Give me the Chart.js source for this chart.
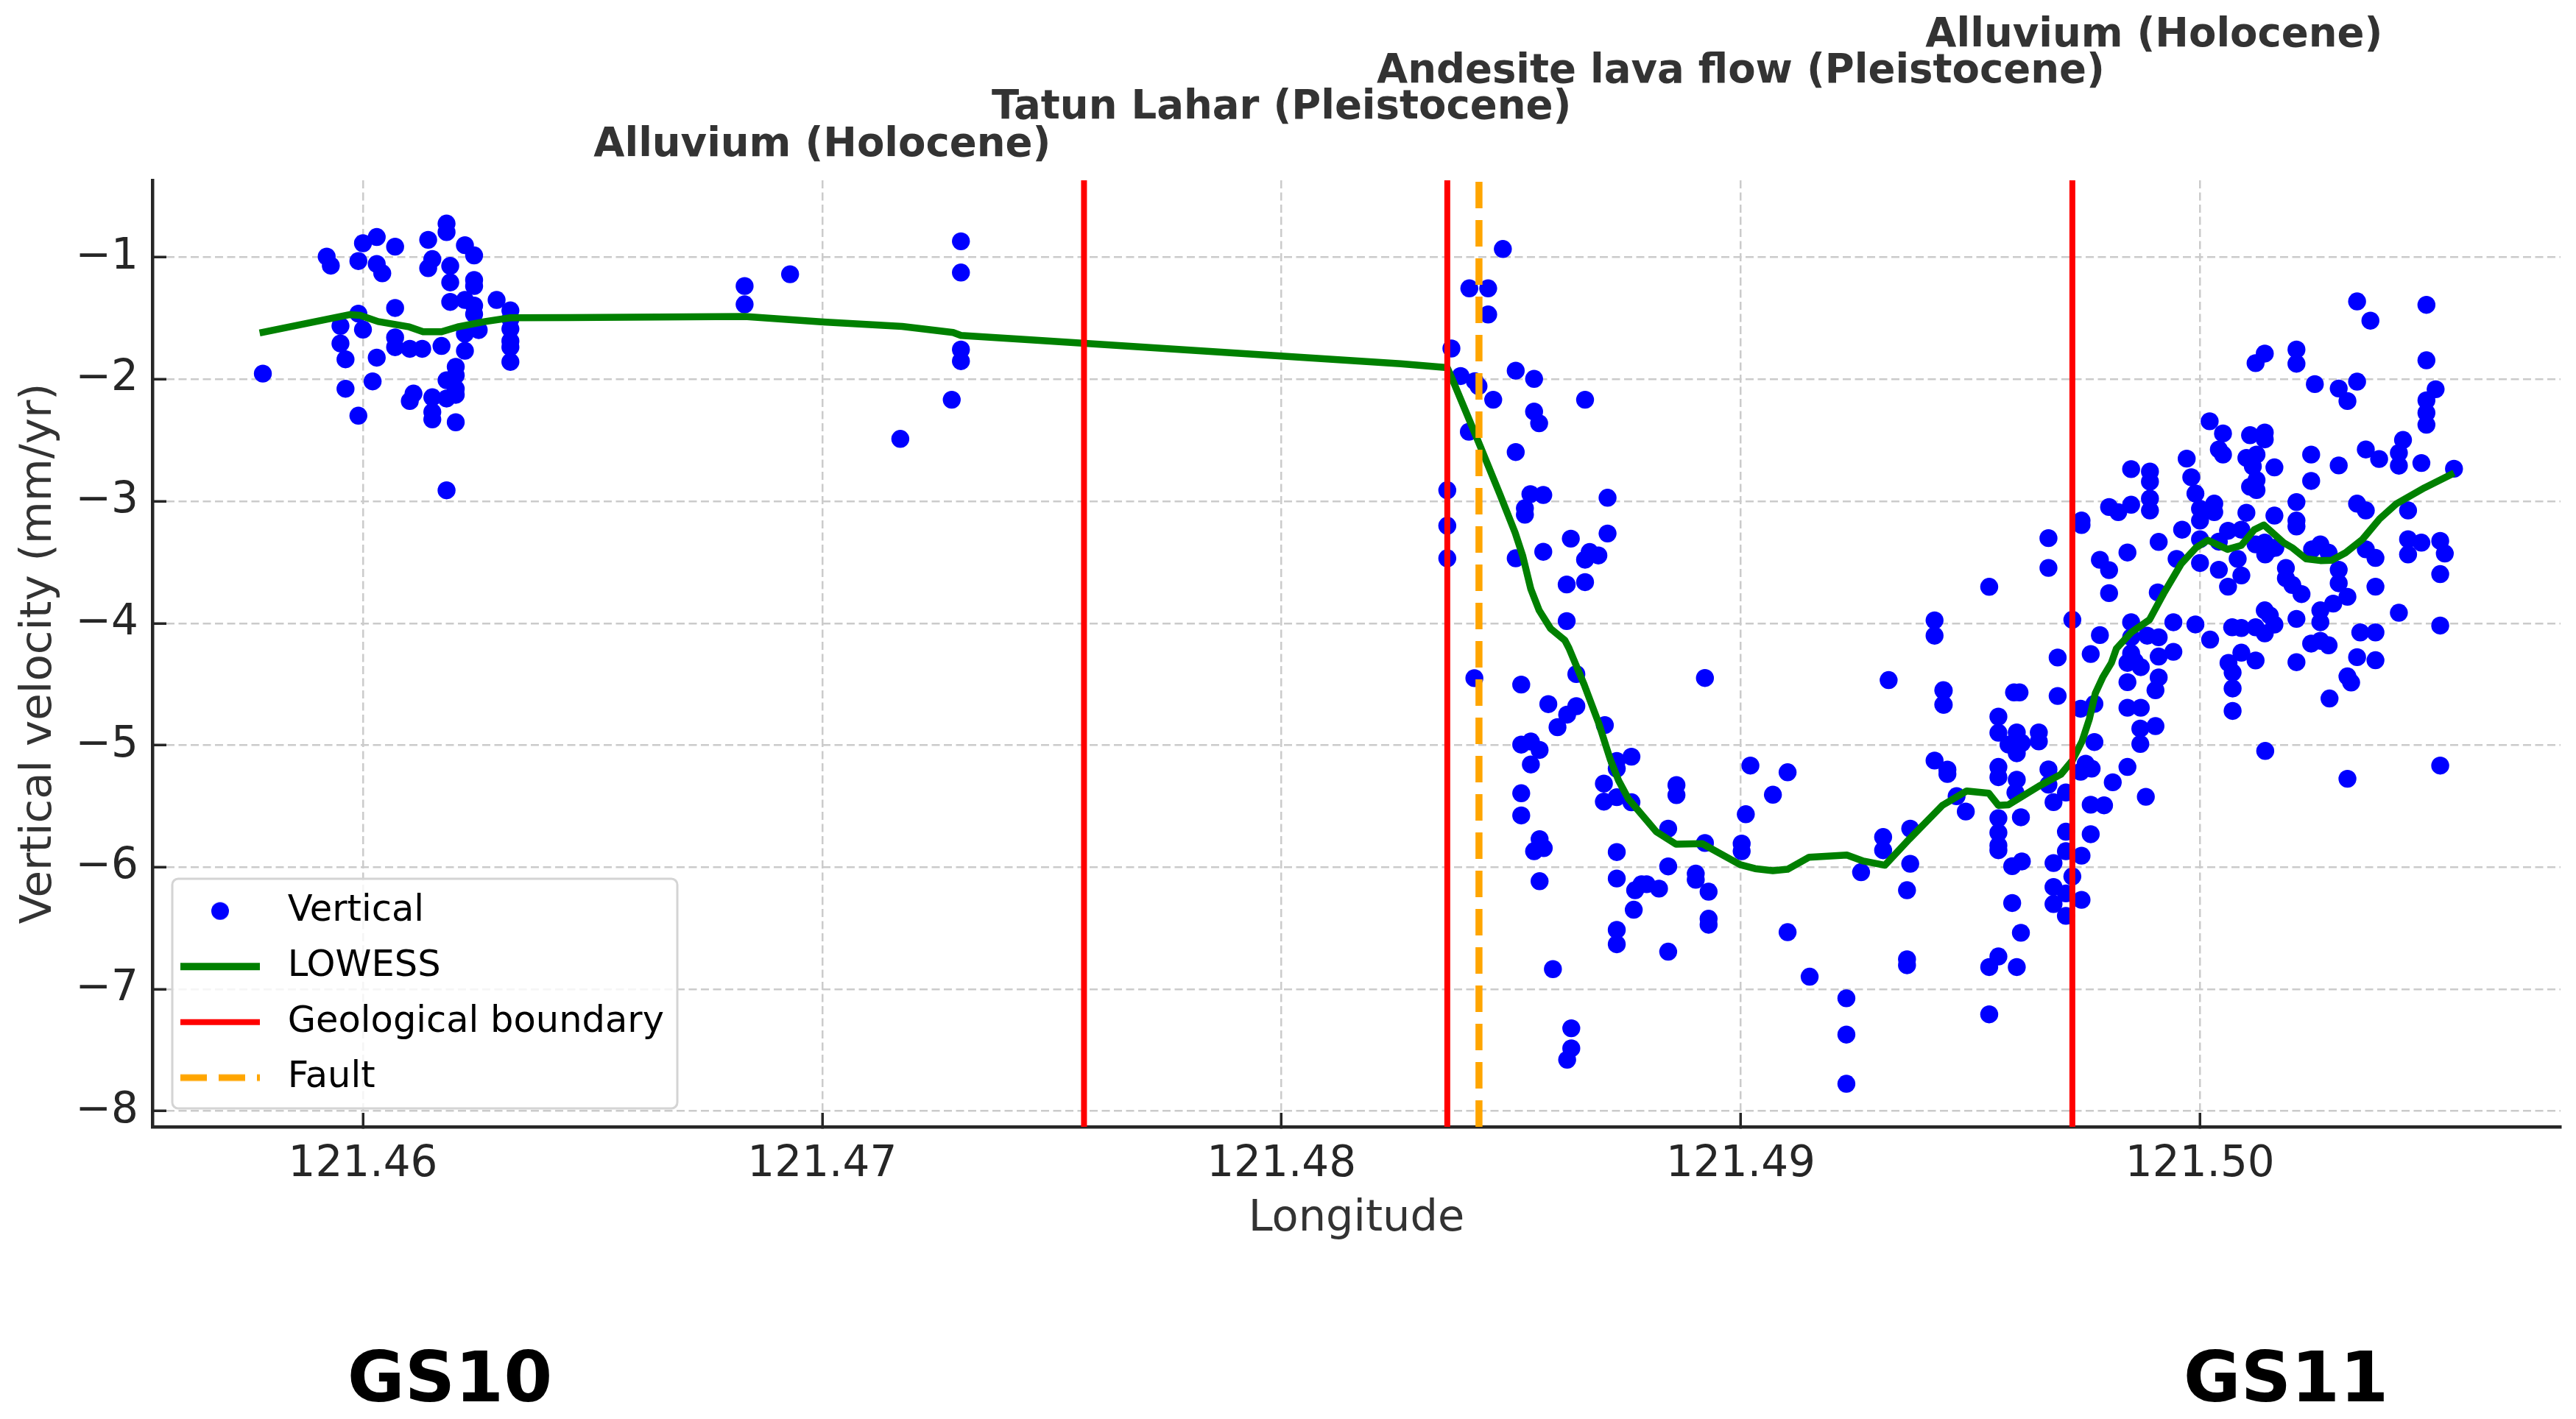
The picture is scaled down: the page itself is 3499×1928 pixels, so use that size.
<!DOCTYPE html>
<html>
<head>
<meta charset="utf-8">
<style>html,body{margin:0;padding:0;background:#fff}canvas{display:block}</style>
<script src="https://cdn.jsdelivr.net/npm/chart.js@4/dist/chart.umd.min.js"></script>
</head>
<body>
<canvas id="c" width="3499" height="1928"></canvas>
<script>
const xTickValues=[121.46,121.47,121.48,121.49,121.50];
const yTickValues=[-1,-2,-3,-4,-5,-6,-7,-8];
const boundaryLons=[121.4757,121.48361,121.49722];
const faultLons=[121.4843];
const unitNames=["Alluvium (Holocene)","Tatun Lahar (Pleistocene)","Andesite lava flow (Pleistocene)","Alluvium (Holocene)"];
const unitLons=[121.47,121.48,121.49,121.499];
const sectionNames=["GS10","GS11"];
const seriesNames=["Vertical","LOWESS","Geological boundary","Fault"];

const westLon=[121.45782,121.45921,121.4593,121.4599,121.46,121.4603,121.4603,121.46042,121.4607,121.46142,121.46151,121.46142,121.46182,121.46182,121.4619,121.4619,121.46222,121.46242,121.46242,121.46242,121.4619,121.46222,121.46242,121.46242,121.46291,121.46321,121.46321,121.46321,121.46321,121.46321,121.46321,121.4607,121.4599,121.45951,121.46,121.45951,121.45962,121.4607,121.4607,121.46102,121.46129,121.46171,121.4603,121.46222,121.46252,121.46222,121.46202,121.46182,121.46202,121.46202,121.46202,121.46182,121.46021,121.45962,121.4611,121.46102,121.46151,121.46151,121.46151,121.4599,121.46202,121.46182,121.46831,121.46831,121.4693,121.47302,121.47302,121.47302,121.47302,121.47282,121.4717];
const westVel=[-1.953,-0.994,-1.068,-1.03,-0.884,-0.833,-1.054,-1.13,-0.912,-0.856,-1.014,-1.088,-0.723,-0.793,-1.07,-1.205,-0.9,-0.984,-1.185,-1.235,-1.365,-1.349,-1.395,-1.465,-1.349,-1.435,-1.505,-1.586,-1.686,-1.736,-1.857,-1.415,-1.461,-1.562,-1.592,-1.706,-1.836,-1.656,-1.736,-1.75,-1.75,-1.726,-1.822,-1.626,-1.596,-1.766,-1.897,-2.007,-1.967,-2.077,-2.127,-2.157,-2.017,-2.077,-2.117,-2.178,-2.147,-2.268,-2.328,-2.298,-2.352,-2.91,-1.235,-1.385,-1.138,-0.868,-1.124,-1.756,-1.851,-2.167,-2.488];

const faultZoneLon=[121.48482,121.48409,121.4845,121.4845,121.4837,121.4839,121.48421,121.48429,121.48461,121.4851,121.4855,121.48661,121.4855,121.48561,121.48408,121.4851,121.48361,121.48361,121.48361,121.48542,121.4857,121.4871,121.4853,121.4853,121.4871,121.4863,121.4857,121.4851,121.48671,121.4869,121.48661,121.48661,121.48621,121.48621];
const faultZoneVel=[-0.931,-1.254,-1.254,-1.468,-1.747,-1.973,-2.015,-2.056,-2.167,-1.929,-1.996,-2.167,-2.264,-2.36,-2.43,-2.596,-2.909,-3.2,-3.467,-2.941,-2.948,-2.971,-3.057,-3.11,-3.264,-3.306,-3.414,-3.467,-3.416,-3.444,-3.479,-3.663,-3.682,-3.982];

const basinLon=[121.4842,121.48522,121.48642,121.48922,121.48581,121.48642,121.48622,121.48601,121.48704,121.48522,121.48543,121.48562,121.48543,121.48522,121.48522,121.4873,121.4873,121.48762,121.48702,121.48702,121.4873,121.48762,121.4886,121.4886,121.48842,121.48922,121.49021,121.49102,121.4907,121.49011,121.49002,121.49002,121.48562,121.48571,121.4855,121.48562,121.4873,121.4873,121.48842,121.48902,121.48902,121.4893,121.4877,121.48784,121.48795,121.48822,121.48767,121.4873,121.4873,121.4893,121.4893,121.48842,121.48591,121.48631,121.48631,121.48622,121.49102,121.4915,121.4923,121.4923,121.4923,121.49262,121.49322,121.49442,121.49442,121.49422,121.4945,121.4945,121.4947,121.4949,121.4931,121.4931,121.49369,121.49369,121.49362,121.49362,121.49362];
const basinVel=[-4.45,-4.503,-4.417,-4.449,-4.663,-4.68,-4.749,-4.852,-4.835,-4.995,-4.97,-5.039,-5.158,-5.394,-5.576,-5.13,-5.192,-5.094,-5.315,-5.463,-5.426,-5.468,-5.327,-5.409,-5.684,-5.802,-5.167,-5.222,-5.406,-5.566,-5.807,-5.869,-5.77,-5.844,-5.869,-6.115,-5.876,-6.093,-5.994,-6.053,-6.103,-6.201,-6.189,-6.14,-6.14,-6.176,-6.349,-6.514,-6.632,-6.423,-6.472,-6.693,-6.836,-7.321,-7.486,-7.579,-6.533,-6.898,-7.075,-7.373,-7.776,-6.041,-4.466,-4.552,-4.668,-5.126,-5.2,-5.236,-5.418,-5.544,-5.753,-5.861,-5.684,-5.972,-6.189,-6.755,-6.804];

const riseLon=[121.4967,121.4967,121.49541,121.49422,121.49422,121.49782,121.49802,121.49802,121.49842,121.4991,121.49722,121.49782,121.49762,121.4969,121.4969,121.4985,121.4985,121.49885,121.4991,121.49942,121.4999,121.50022,121.49942,121.4991,121.4985,121.49842,121.49858,121.49871,121.4991,121.49903,121.49842,121.49842,121.49871,121.49441,121.49441,121.49607,121.49595,121.49561,121.49561,121.49601,121.49649,121.49649,121.49583,121.49612,121.49601,121.4974,121.4977,121.4977,121.49903,121.4987,121.4987,121.50071,121.50071,121.50071,121.50062,121.5009,121.50121,121.50142,121.49842,121.4981,121.49882,121.49751,121.49764,121.4974,121.49762,121.49791,121.49762,121.49742,121.4967,121.4967,121.49708,121.49681];
const riseVel=[-3.302,-3.546,-3.701,-3.976,-4.102,-3.48,-3.564,-3.753,-3.42,-3.333,-3.971,-4.097,-4.252,-4.281,-4.596,-3.992,-4.115,-4.102,-4.115,-3.992,-4.01,-4.134,-4.234,-4.273,-4.247,-4.325,-4.312,-4.36,-4.444,-4.549,-4.483,-4.693,-4.693,-4.549,-4.667,-4.567,-4.567,-4.766,-4.898,-4.895,-4.895,-4.969,-4.995,-4.982,-5.066,-4.701,-4.661,-4.974,-4.843,-4.864,-4.99,-4.535,-4.719,-4.404,-4.325,-4.241,-4.305,-5.047,-5.178,-5.304,-5.423,-5.152,-5.192,-5.218,-5.488,-5.493,-5.73,-5.906,-5.199,-5.323,-5.388,-5.467];

const scarpLon=[121.49561,121.49561,121.49601,121.49598,121.49561,121.49561,121.49561,121.49561,121.4961,121.49708,121.49708,121.49681,121.49612,121.49591,121.49722,121.49681,121.49708,121.49742,121.49681,121.49708,121.49591,121.4961,121.49561,121.49541,121.49601,121.49541];
const scarpVel=[-5.178,-5.262,-5.283,-5.388,-5.598,-5.717,-5.822,-5.861,-5.591,-5.709,-5.869,-5.966,-5.953,-5.992,-6.076,-6.163,-6.215,-6.268,-6.302,-6.399,-6.294,-6.538,-6.732,-6.819,-6.819,-7.207];

const eastUpperLon=[121.50342,121.50371,121.50493,121.50493,121.50141,121.50121,121.5021,121.5021,121.5025,121.50302,121.50342,121.50321,121.50513,121.50493,121.50493,121.50493,121.50442,121.50433,121.50433,121.50361,121.5039,121.50482,121.50553,121.50242,121.50302,121.50242,121.5021,121.50342,121.50361,121.50453,121.50162,121.5021,121.5021,121.50021,121.5005,121.50041,121.5005,121.50109,121.50141,121.50141,121.49971,121.49981,121.4999,121.50101,121.50123,121.50115,121.50162,121.50123,121.50109,121.50123,121.5,121.5,121.50031,121.50031,121.50101];
const eastUpperVel=[-1.361,-1.519,-1.389,-1.844,-1.789,-1.867,-1.756,-1.872,-2.039,-2.075,-2.019,-2.178,-2.081,-2.172,-2.275,-2.372,-2.497,-2.603,-2.708,-2.575,-2.653,-2.686,-2.733,-2.617,-2.706,-2.833,-3.006,-3.019,-3.075,-3.075,-3.117,-3.158,-3.206,-2.344,-2.444,-2.575,-2.617,-2.458,-2.436,-2.492,-2.65,-2.803,-2.936,-2.644,-2.617,-2.714,-2.722,-2.825,-2.881,-2.908,-3.061,-3.158,-3.019,-3.089,-3.094];

const eastLowerLon=[121.49961,121.5,121.50061,121.5009,121.50041,121.49949,121.5,121.50041,121.50082,121.5009,121.50061,121.49908,121.50121,121.50141,121.50152,121.50142,121.50164,121.50187,121.50187,121.50201,121.50221,121.50141,121.50152,121.50162,121.5021,121.50262,121.50262,121.5029,121.50321,121.50302,121.50302,121.50244,121.50262,121.5028,121.50361,121.50382,121.50382,121.50453,121.50453,121.50482,121.50523,121.50533,121.50523,121.50433,121.50523,121.50349,121.50382,121.50242,121.50262,121.5028,121.50342,121.50382,121.5021,121.50321,121.50329,121.50282,121.50321,121.50523,121.5007,121.5009,121.50121,121.50141];
const eastLowerVel=[-3.233,-3.311,-3.242,-3.233,-3.331,-3.472,-3.506,-3.561,-3.472,-3.608,-3.7,-3.747,-3.353,-3.339,-3.394,-3.436,-3.381,-3.547,-3.631,-3.686,-3.761,-3.894,-3.936,-4.011,-3.964,-3.894,-3.992,-3.839,-3.783,-3.561,-3.672,-3.394,-3.353,-3.422,-3.394,-3.464,-3.7,-3.311,-3.436,-3.339,-3.325,-3.428,-3.597,-3.914,-4.019,-4.075,-4.075,-4.167,-4.144,-4.181,-4.278,-4.303,-4.319,-4.436,-4.486,-4.617,-5.275,-5.167,-4.033,-4.039,-4.033,-4.083];

const shoulderLon=[121.4985,121.49891,121.49891,121.49802,121.49822,121.4985,121.49891,121.49891,121.49742,121.49742];
const shoulderVel=[-2.736,-2.756,-2.839,-3.047,-3.089,-3.028,-2.978,-3.075,-3.158,-3.194];

const lowessLon=[121.45775,121.45972,121.45994,121.46033,121.46101,121.46131,121.46171,121.46206,121.46266,121.46321,121.4645,121.46831,121.47003,121.47174,121.47285,121.47302,121.47454,121.4826,121.48361,121.48371,121.48426,121.48475,121.48509,121.48525,121.48543,121.48561,121.48586,121.48617,121.48626,121.48659,121.48691,121.48716,121.48734,121.48755,121.48816,121.48859,121.48916,121.48999,121.49031,121.4907,121.49102,121.49149,121.49231,121.49267,121.49314,121.49367,121.49439,121.49492,121.4954,121.49561,121.49583,121.49649,121.49697,121.49722,121.49743,121.49759,121.49772,121.49788,121.49807,121.49818,121.4985,121.4989,121.49922,121.49959,121.49991,121.50017,121.5006,121.5009,121.50118,121.50139,121.50182,121.50201,121.50231,121.50262,121.50287,121.50317,121.50354,121.50391,121.50428,121.50489,121.50553];
const lowessVel=[-1.62,-1.469,-1.475,-1.526,-1.57,-1.61,-1.61,-1.57,-1.526,-1.495,-1.493,-1.485,-1.53,-1.566,-1.616,-1.64,-1.676,-1.872,-1.904,-1.991,-2.487,-2.937,-3.26,-3.444,-3.721,-3.894,-4.044,-4.14,-4.205,-4.503,-4.823,-5.118,-5.29,-5.438,-5.709,-5.812,-5.807,-5.98,-6.012,-6.029,-6.017,-5.918,-5.901,-5.95,-5.984,-5.77,-5.493,-5.375,-5.394,-5.493,-5.488,-5.336,-5.239,-5.126,-4.969,-4.785,-4.575,-4.444,-4.325,-4.207,-4.076,-3.971,-3.748,-3.512,-3.381,-3.319,-3.394,-3.361,-3.233,-3.194,-3.339,-3.381,-3.472,-3.486,-3.483,-3.422,-3.311,-3.144,-3.019,-2.889,-2.769];

const xMin=121.455415,xMax=121.50785,yMin=-8.129,yMax=-0.368;
const pairs=(a,b)=>a.map((x,i)=>({x,y:b[i]}));
const verticalData=[].concat(
  pairs(westLon,westVel),pairs(faultZoneLon,faultZoneVel),pairs(basinLon,basinVel),
  pairs(riseLon,riseVel),pairs(scarpLon,scarpVel),pairs(eastUpperLon,eastUpperVel),
  pairs(eastLowerLon,eastLowerVel),pairs(shoulderLon,shoulderVel));
const vLine=x=>[{x,y:yMin},{x,y:yMax}];
const FONT='"DejaVu Sans"';
const INK='#262626',TXT='#333333';

function key(draw){
  const c=document.createElement('canvas');c.width=110;c.height=30;
  const g=c.getContext('2d');draw(g);return c;
}
function stroke(color,w,dash){return g=>{g.strokeStyle=color;g.lineWidth=w;g.setLineDash(dash);g.beginPath();g.moveTo(1,15);g.lineTo(109,15);g.stroke();};}
const keys=[
  key(g=>{g.fillStyle='#0000ff';g.beginPath();g.arc(55,15,12,0,Math.PI*2);g.fill();}),
  key(stroke('#008000',10,[])),
  key(stroke('#ff0000',8,[])),
  key(stroke('#ffa500',9,[36,16]))
];

const overlay={
  id:'overlay',
  afterLayout(chart){
    const l=chart.legend;
    l.left=206;l.top=1187;l.right=940;l.bottom=1524;l.width=734;l.height=337;
    if(!l._framed){
      l._framed=true;
      const base=l.draw.bind(l);
      l.draw=function(){
        const ctx=chart.ctx;ctx.save();
        ctx.beginPath();ctx.roundRect(234,1194,686,312,8);
        ctx.fillStyle='rgba(255,255,255,0.8)';ctx.fill();
        ctx.lineWidth=3;ctx.strokeStyle='#d4d4d4';ctx.stroke();ctx.restore();
        base();
      };
    }
  },
  afterDraw(chart){
    const ctx=chart.ctx,xs=chart.scales.x;
    ctx.save();ctx.textAlign='center';ctx.textBaseline='middle';
    ctx.fillStyle=TXT;ctx.font='bold 54.5px '+FONT;
    const rows=[198,147,98,49];
    unitNames.forEach((t,i)=>ctx.fillText(t,xs.getPixelForValue(unitLons[i]),rows[i]));
    ctx.fillStyle='#000';ctx.font='bold 95px '+FONT;
    ctx.fillText(sectionNames[0],611,1879);
    ctx.fillText(sectionNames[1],3105,1879);
    ctx.restore();
  }
};

new Chart(document.getElementById('c'),{
  type:'scatter',
  data:{datasets:[
    {label:seriesNames[0],data:verticalData,backgroundColor:'#0000ff',borderColor:'#0000ff',pointRadius:12.2,pointBorderWidth:0,order:5},
    {label:seriesNames[1],data:pairs(lowessLon,lowessVel),showLine:true,borderColor:'#008000',borderWidth:9.5,pointRadius:0,tension:0,borderJoinStyle:'round',order:4},
    ...boundaryLons.map(b=>({label:seriesNames[2],data:vLine(b),showLine:true,borderColor:'#ff0000',borderWidth:8,pointRadius:0,order:3})),
    ...faultLons.map(b=>({label:seriesNames[3],data:vLine(b),showLine:true,borderColor:'#ffa500',borderWidth:9.5,borderDash:[36,16],pointRadius:0,order:2}))
  ]},
  options:{
    responsive:false,animation:false,devicePixelRatio:1,
    layout:{padding:{left:0,top:245,right:21,bottom:228}},
    plugins:{
      tooltip:{enabled:false},
      legend:{
        position:'chartArea',align:'start',
        labels:{
          usePointStyle:true,pointStyleWidth:134,padding:26,color:TXT,
          font:{family:FONT,size:49.5},
          generateLabels:()=>seriesNames.map((text,i)=>({text,pointStyle:keys[i],fillStyle:'#000',strokeStyle:'#000',lineWidth:1,hidden:false,datasetIndex:i}))
        }
      }
    },
    scales:{
      x:{
        type:'linear',min:xMin,max:xMax,
        afterBuildTicks:s=>{s.ticks=xTickValues.map(value=>({value}));},
        afterFit:s=>{s.height=169;},
        grid:{color:'#cbcbcb',lineWidth:2.5,tickLength:-19,tickColor:INK,tickWidth:3.5,drawTicks:true},
        border:{display:true,color:INK,width:4.5,dash:[11,5.5]},
        ticks:{autoSkip:false,maxRotation:0,padding:36,color:INK,font:{family:FONT,size:58},callback:v=>Number(v).toFixed(2)},
        title:{display:true,text:'Longitude',color:TXT,font:{family:FONT,size:59},padding:{top:0,bottom:8}}
      },
      y:{
        type:'linear',min:yMin,max:yMax,
        afterBuildTicks:s=>{s.ticks=yTickValues.map(value=>({value}));},
        afterFit:s=>{s.width=207;},
        grid:{color:'#cbcbcb',lineWidth:2.5,tickLength:-19,tickColor:INK,tickWidth:3.5,drawTicks:true},
        border:{display:true,color:INK,width:4.5,dash:[11,5.5]},
        ticks:{autoSkip:false,padding:38,color:INK,font:{family:FONT,size:58},callback:v=>String(v).replace('-','\u2212')},
        title:{display:true,text:'Vertical velocity (mm/yr)',color:TXT,font:{family:FONT,size:59.5},padding:{top:18,bottom:0}}
      }
    }
  },
  plugins:[overlay]
});
</script>
</body>
</html>
